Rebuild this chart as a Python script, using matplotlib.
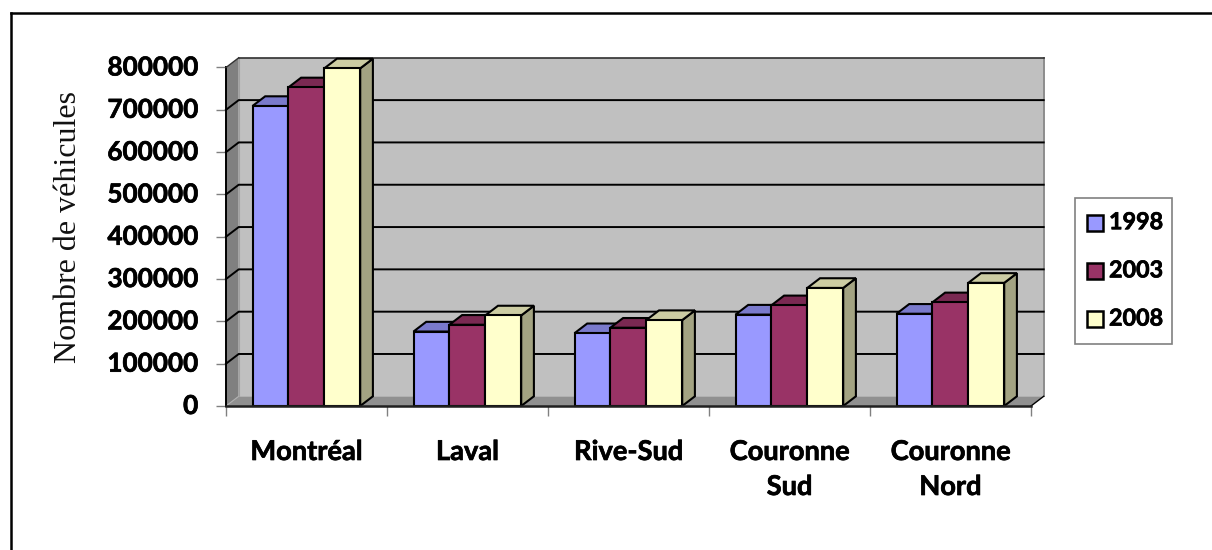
import matplotlib
matplotlib.use("Agg")
import matplotlib.pyplot as plt
from matplotlib.patches import Polygon, Rectangle
from matplotlib.lines import Line2D
import matplotlib.patheffects as pe

categories = ["Montréal", "Laval", "Rive-Sud", "Couronne\nSud", "Couronne\nNord"]
years = ["1998", "2003", "2008"]
v1998 = [709000, 176000, 172000, 216000, 218000]
v2003 = [753000, 192000, 185000, 238000, 245000]
v2008 = [798000, 214000, 203000, 279000, 291000]
yticks = [0, 100000, 200000, 300000, 400000, 500000, 600000, 700000, 800000]
front = ["#9999FF", "#993366", "#FFFFCC"]
top = ["#7A7ACC", "#7A2952", "#CCCCA3"]
side = ["#6B6BB3", "#6B2447", "#A3A382"]

W, H = 1212, 550
fig = plt.figure(figsize=(W/100, H/100), dpi=100, facecolor="white")
L, R, T, B = 226, 1031, 67.5, 406
ax = fig.add_axes([L/W, 1-B/H, (R-L)/W, (B-T)/H])
ax.set_xlim(0, 5); ax.set_ylim(0, 800000)
ax.patch.set_visible(False)
for s in ax.spines.values():
    s.set_visible(False)

dx = 12.7 * 5 / (R-L)
dy = 9.7 * 800000 / (B-T)
bar_w = 35.9 * 5 / (R-L)
bar_start = (252.5 - L) * 5 / (R-L)
bolder = [pe.withStroke(linewidth=0.5, foreground="black")]

def poly(pts, fc, z, ec="none", lw=0):
    ax.add_patch(Polygon(pts, closed=True, fc=fc, ec=ec, lw=lw, zorder=z, clip_on=False, joinstyle="miter"))

# walls and floor
poly([(0, 0), (dx, dy), (dx, 800000+dy), (0, 800000)], "#808080", 1)
poly([(dx, dy), (5+dx, dy), (5+dx, 800000+dy), (dx, 800000+dy)], "#C0C0C0", 1)
poly([(0, 0), (5, 0), (5+dx, dy), (dx, dy)], "#909090", 1)
ax.plot([5+dx, 5+dx], [800000+dy, dy], color="#8c8c8c", lw=1.4, zorder=2, clip_on=False)
ax.plot([dx, dx], [dy, 800000+dy], color="#a0a0a0", lw=0.8, zorder=2, clip_on=False)
ax.plot([0, dx], [0, dy], color="#b0b0b0", lw=0.8, zorder=2, clip_on=False)
for y in yticks[1:8]:
    ax.plot([0, dx, 5+dx], [y, y+dy, y+dy], color="black", lw=1.4, zorder=3, clip_on=False,
            solid_joinstyle="miter")
ax.plot([0, 0], [0, 800000], color="black", lw=1.4, zorder=3, clip_on=False)
ax.plot([0, dx], [800000, 800000+dy], color="#333333", lw=1.0, zorder=3, clip_on=False)
ax.plot([dx, 5+dx], [800000+dy]*2, color="#303030", lw=1.2, zorder=3, clip_on=False)
ax.plot([5, 5+dx], [0, dy], color="black", lw=1.0, zorder=3, clip_on=False)

# bars, left to right so each overlaps its left neighbour's side
for i in range(5):
    for j, vals in enumerate([v1998, v2003, v2008]):
        x0 = i + bar_start + j*bar_w
        x1 = x0 + bar_w
        h = vals[i]
        z = 5 + i + j*0.1
        poly([(x1, 0), (x1+dx, dy), (x1+dx, h+dy), (x1, h)], side[j], z, "black", 1.5)
        poly([(x0, h), (x1, h), (x1+dx, h+dy), (x0+dx, h+dy)], top[j], z, "black", 1.5)
        poly([(x0, 0), (x1, 0), (x1, h), (x0, h)], front[j], z+0.01, "black", 1.5)

ax.plot([0, 5], [0, 0], color="#202020", lw=1.8, zorder=20, clip_on=False)

ax.set_yticks(yticks)
ax.set_yticklabels([str(v) for v in yticks], fontsize=18.8, fontweight="bold", family="Lato", color="black")
for lab in ax.get_yticklabels():
    lab.set_verticalalignment("center")
    lab.set_path_effects(bolder)
ax.set_xticks(range(6))
ax.set_xticklabels([])
ax.tick_params(axis="y", length=7, width=1, color="#808080", pad=13, labelcolor="black")
ax.tick_params(axis="x", length=7, width=1, color="#808080")
for i, c in enumerate(categories):
    ax.text(i+0.5, -34/(B-T), c, ha="center", va="top", fontsize=19.6, fontweight="bold", family="Lato",
            color="black", linespacing=1.55, transform=ax.get_xaxis_transform(), path_effects=bolder)
fig.text(69/W, 1-227.5/H, "Nombre de véhicules", rotation=90, ha="center", va="center",
         fontsize=23, family="Liberation Serif", color="#111111")

# legend box
fig.add_artist(Rectangle((1075/W, 1-344/H), 97/W, 146/H, transform=fig.transFigure, fc="white",
                         ec="#808080", lw=1.2))
for j, y in enumerate(years):
    py = 222.7 + j*48.2
    fig.add_artist(Rectangle((1086.5/W, 1-(py+8)/H), 16/W, 16/H, transform=fig.transFigure,
                             fc=front[j], ec="black", lw=1.8))
    fig.text(1109/W, 1-py/H, y, ha="left", va="center", fontsize=16.8, fontweight="bold", family="Lato",
             color="black", path_effects=bolder)

# outer frame
for xs, ys in [([10.5, 10.5], [550, 13]), ([10.5, 1212], [13, 13])]:
    fig.add_artist(Line2D([x/W for x in xs], [1-y/H for y in ys], color="black", lw=1.8,
                          solid_capstyle="projecting"))

fig.savefig("out.png", dpi=100)
